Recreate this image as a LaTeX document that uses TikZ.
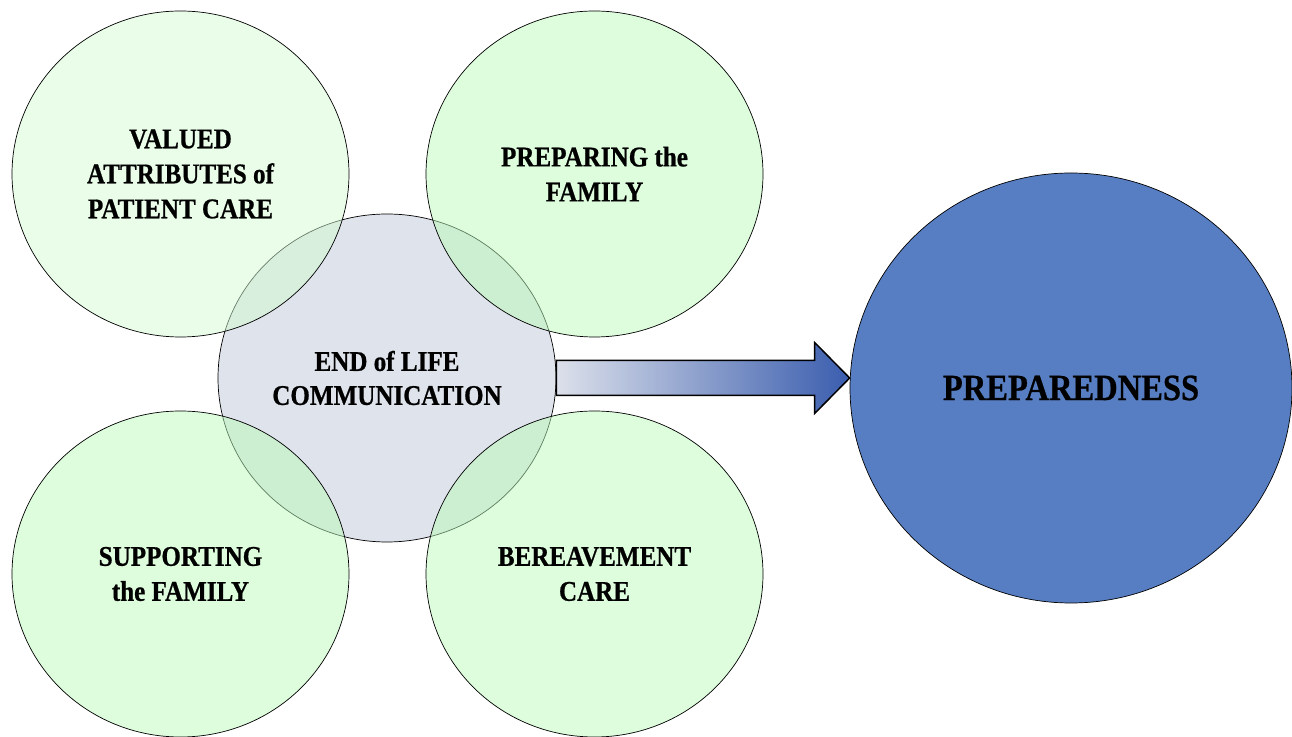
\documentclass[tikz,border=0pt]{standalone}
\usepackage{fontspec}
\setmainfont{Liberation Serif}[FakeStretch=0.88,BoldFeatures={FakeBold=0.7}]
\usetikzlibrary{shapes.geometric,calc}
\definecolor{greenA}{RGB}{211,251,211}
\definecolor{greenB}{RGB}{187,251,187}
\definecolor{centfill}{RGB}{223,227,235}
\definecolor{prepblue}{RGB}{87,126,194}
\definecolor{arrowL}{RGB}{220,224,234}
\definecolor{arrowR}{RGB}{58,93,174}
\tikzset{
  bubble/.style={ellipse, draw=black, line width=0.7pt, inner sep=0pt,
    minimum width=337pt, minimum height=326pt, align=center,
    font=\bfseries\fontsize{28.5}{35}\selectfont, text opacity=1},
  greenbub/.style={bubble, fill=greenB, fill opacity=0.5},
  greenbubA/.style={bubble, fill=greenA, fill opacity=0.5},
  centbub/.style={bubble, fill=centfill, minimum width=338pt, minimum height=328pt,
    font=\bfseries\fontsize{28.5}{34}\selectfont},
  prepbub/.style={ellipse, draw=black, line width=0.7pt, fill=prepblue, inner sep=0pt,
    minimum width=442pt, minimum height=430pt,
    font=\bfseries\fontsize{37}{40}\selectfont},
  bigarrow/.style={left color=arrowL, right color=arrowR, draw=black,
    line width=1.5pt, line join=miter}
}
\begin{document}
\begin{tikzpicture}[x=1pt,y=1pt]
\useasboundingbox (0,0) rectangle (1292,736);
\node[centbub] (cen) at (387,358) {END of LIFE\\COMMUNICATION};
\node[greenbubA] (val) at (180.5,562) {VALUED\\ATTRIBUTES of\\PATIENT CARE};
\node[greenbub] (prepfam) at (594.5,562) {PREPARING the\\FAMILY};
\node[greenbub] (supp) at (180.5,162) {SUPPORTING\\the FAMILY};
\node[greenbub] (ber) at (594.5,162) {BEREAVEMENT\\CARE};
\node[prepbub] (prep) at (1071,348) {PREPAREDNESS};
\coordinate (tip) at (prep.west |- cen.east);
\shade[bigarrow] ([yshift=17.5pt]cen.east) -- ([xshift=-35pt,yshift=17.5pt]tip)
  -- ([xshift=-35pt,yshift=35.5pt]tip) -- (tip)
  -- ([xshift=-35pt,yshift=-35.5pt]tip) -- ([xshift=-35pt,yshift=-17.5pt]tip)
  -- ([yshift=-17.5pt]cen.east) -- cycle;
\end{tikzpicture}
\end{document}
